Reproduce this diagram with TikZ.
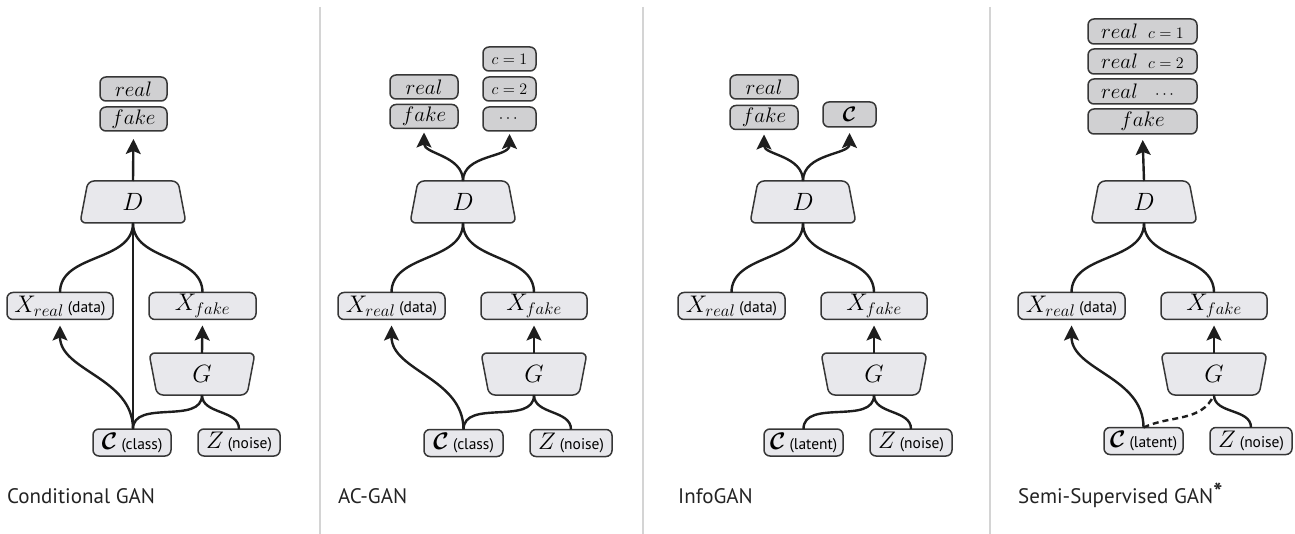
\RequirePackage{fix-cm}
\documentclass[tikz,border=0pt]{standalone}
\usepackage{amsmath}
\usepackage{bm}
\usepackage{fontspec}
\newfontfamily\capfont{PT Sans}
\usetikzlibrary{arrows.meta,calc}
\definecolor{boxfill}{RGB}{232,232,236}
\definecolor{outfill}{RGB}{208,208,210}
\definecolor{edgec}{RGB}{55,55,55}
\definecolor{wirec}{RGB}{30,30,30}
\definecolor{sepc}{RGB}{212,212,212}
\definecolor{capc}{RGB}{35,35,35}
\newcommand\smallsans[1]{{\capfont\fontsize{15.5}{17}\selectfont #1}}
\newcommand\cwbox[1]{\makebox[36pt]{#1}}
\newcommand\Dshape[2]{\draw[trapstyle] ({#1-53},{#2-21}) -- ({#1-45},{#2+21}) -- ({#1+45},{#2+21}) -- ({#1+53},{#2-21}) -- cycle;}
\newcommand\Gshape[2]{\draw[trapstyle] ({#1-53},{#2+21}) -- ({#1-45},{#2-21}) -- ({#1+45},{#2-21}) -- ({#1+53},{#2+21}) -- cycle;}
\tikzset{
  x=1pt, y=1pt,
  box/.style={draw=edgec, line width=1.5pt, rounded corners=6pt, inner sep=0pt, outer sep=0pt, minimum height=27pt, align=center},
  inbox/.style={box, fill=boxfill, font=\fontsize{24}{28}\selectfont},
  outbox/.style={box, fill=outfill, minimum height=24pt, font=\fontsize{21}{24}\selectfont},
  trapnode/.style={inner sep=0pt, outer sep=0pt, minimum width=106pt, minimum height=42pt, font=\fontsize{25}{28}\selectfont},
  trapstyle/.style={draw=edgec, fill=boxfill, line width=1.5pt, rounded corners=6pt},
  wire/.style={draw=wirec, line width=2.4pt},
  arr/.style={wire, -{Stealth[length=15pt,width=15pt,inset=3pt]}, shorten >=6pt},
  caption/.style={anchor=base west, inner sep=0pt, text=capc, font=\capfont\fontsize{21}{24}\selectfont},
  sepline/.style={draw=sepc, line width=1.2pt}
}
\begin{document}
\begin{tikzpicture}
\useasboundingbox (0,0) rectangle (1295,-534);
% separators
\draw[sepline] (320,-7) -- (320,-534);
\draw[sepline] (643,-7) -- (643,-534);
\draw[sepline] (990,-7) -- (990,-534);

% ---------- Panel 1: Conditional GAN ----------
\node[outbox, minimum width=67pt] (a-real) at (133.5,-89) {$real$};
\node[outbox, minimum width=67pt] (a-fake) at (133.5,-119) {$fake$};
\Dshape{133}{-202}
\node[trapnode] (a-D) at (133,-202) {$D$};
\node[inbox, minimum width=106pt] (a-Xr) at (60,-306) {$X_{real}$\,\smallsans{(data)}};
\node[inbox, minimum width=107pt] (a-Xf) at (202.5,-306) {$X_{fake}$};
\Gshape{202}{-374}
\node[trapnode] (a-G) at (202,-374) {$G$};
\node[inbox, minimum width=78pt] (a-C) at (132,-442.5) {$\bm{\mathcal{C}}$\,\smallsans{(class)}};
\node[inbox, minimum width=82pt] (a-Z) at (239,-442.5) {$Z$\,\smallsans{(noise)}};
\coordinate (a-c) at (a-D.south |- a-C.north);
\draw[arr, shorten >=8pt] (a-D.north) -- (a-fake.south);
\draw[wire] (a-D.south) to[out=-90,in=90] (a-Xr.north);
\draw[wire] (a-D.south) to[out=-90,in=90] (a-Xf.north);
\draw[wire] (a-D.south) -- (a-c);
\draw[arr] (a-c) to[out=90,in=-90] (a-Xr.south);
\draw[wire] (a-c) to[out=90,in=-90] (a-G.south);
\draw[wire] (a-Z.north) to[out=90,in=-90] (a-G.south);
\draw[arr] (a-G.north) -- (a-Xf.south);
\node[caption] (a-cap) at (7,-503) {Conditional GAN};

% ---------- Panel 2: AC-GAN ----------
\node[outbox, minimum width=68pt] (b-real) at (424,-87) {$real$};
\node[outbox, minimum width=68pt] (b-fake) at (424,-116.5) {$fake$};
\node[outbox, minimum width=53pt, font=\fontsize{16}{18}\selectfont] (b-c1) at (509.5,-59) {$c=1$};
\node[outbox, minimum width=53pt, font=\fontsize{16}{18}\selectfont] (b-c2) at (509.5,-89) {$c=2$};
\node[outbox, minimum width=53pt, font=\fontsize{16}{18}\selectfont] (b-cd) at (509.5,-119) {$\cdots$};
\Dshape{463}{-202}
\node[trapnode] (b-D) at (463,-202) {$D$};
\node[inbox, minimum width=107pt] (b-Xr) at (391.5,-306) {$X_{real}$\,\smallsans{(data)}};
\node[inbox, minimum width=106pt] (b-Xf) at (534,-306) {$X_{fake}$};
\Gshape{534}{-374}
\node[trapnode] (b-G) at (534,-374) {$G$};
\node[inbox, minimum width=79pt] (b-C) at (463.5,-443) {$\bm{\mathcal{C}}$\,\smallsans{(class)}};
\node[inbox, minimum width=82pt] (b-Z) at (571,-443) {$Z$\,\smallsans{(noise)}};
\draw[arr, shorten >=4pt] (b-D.north) to[out=90,in=-90] (b-fake.south);
\draw[arr, shorten >=3pt] (b-D.north) to[out=90,in=-90] (b-cd.south);
\draw[wire] (b-D.south) to[out=-90,in=90] (b-Xr.north);
\draw[wire] (b-D.south) to[out=-90,in=90] (b-Xf.north);
\draw[arr] (b-C.north) to[out=90,in=-90] (b-Xr.south);
\draw[wire] (b-C.north) to[out=90,in=-90] (b-G.south);
\draw[wire] (b-Z.north) to[out=90,in=-90] (b-G.south);
\draw[arr] (b-G.north) -- (b-Xf.south);
\node[caption] (b-cap) at (338,-503) {AC-GAN};

% ---------- Panel 3: InfoGAN ----------
\node[outbox, minimum width=68pt] (c-real) at (764,-87) {$real$};
\node[outbox, minimum width=68pt] (c-fake) at (764,-117.5) {$fake$};
\node[outbox, minimum width=53pt, minimum height=25pt] (c-Co) at (849.5,-114.5) {$\bm{\mathcal{C}}$};
\Dshape{803}{-202}
\node[trapnode] (c-D) at (803,-202) {$D$};
\node[inbox, minimum width=107pt] (c-Xr) at (731.5,-306) {$X_{real}$\,\smallsans{(data)}};
\node[inbox, minimum width=106pt] (c-Xf) at (874,-306) {$X_{fake}$};
\Gshape{874}{-374}
\node[trapnode] (c-G) at (874,-374) {$G$};
\node[inbox, minimum width=79pt] (c-C) at (803.5,-442.5) {$\bm{\mathcal{C}}$\,\smallsans{(latent)}};
\node[inbox, minimum width=82pt] (c-Z) at (911,-442.5) {$Z$\,\smallsans{(noise)}};
\draw[arr, shorten >=5pt] (c-D.north) to[out=90,in=-90] (c-fake.south);
\draw[arr, shorten >=6pt] (c-D.north) to[out=90,in=-90] (c-Co.south);
\draw[wire] (c-D.south) to[out=-90,in=90] (c-Xr.north);
\draw[wire] (c-D.south) to[out=-90,in=90] (c-Xf.north);
\draw[wire] (c-C.north) to[out=90,in=-90] (c-G.south);
\draw[wire] (c-Z.north) to[out=90,in=-90] (c-G.south);
\draw[arr] (c-G.north) -- (c-Xf.south);
\node[caption] (c-cap) at (678,-503) {InfoGAN};

% ---------- Panel 4: Semi-Supervised GAN ----------
\node[outbox, minimum width=109pt, minimum height=25pt] (d-r1) at (1142.5,-31.5) {$real$\hspace{10pt}{\fontsize{16}{18}\selectfont\cwbox{$c=1$}}};
\node[outbox, minimum width=109pt, minimum height=25pt] (d-r2) at (1142.5,-61.5) {$real$\hspace{10pt}{\fontsize{16}{18}\selectfont\cwbox{$c=2$}}};
\node[outbox, minimum width=109pt, minimum height=25pt] (d-r3) at (1142.5,-91.5) {$real$\hspace{10pt}{\fontsize{16}{18}\selectfont\cwbox{$\cdots$}}};
\node[outbox, minimum width=109pt, minimum height=25pt] (d-fake) at (1142.5,-121.5) {$fake$};
\Dshape{1144}{-202}
\node[trapnode] (d-D) at (1144,-202) {$D$};
\node[inbox, minimum width=107pt] (d-Xr) at (1071.5,-306) {$X_{real}$\,\smallsans{(data)}};
\node[inbox, minimum width=106pt] (d-Xf) at (1214,-306) {$X_{fake}$};
\Gshape{1214}{-374}
\node[trapnode] (d-G) at (1214,-374) {$G$};
\node[inbox, minimum width=79pt] (d-C) at (1143.5,-441) {$\bm{\mathcal{C}}$\,\smallsans{(latent)}};
\node[inbox, minimum width=82pt] (d-Z) at (1251,-441) {$Z$\,\smallsans{(noise)}};
\draw[arr] (d-D.north) -- (d-fake.south);
\draw[wire] (d-D.south) to[out=-90,in=90] (d-Xr.north);
\draw[wire] (d-D.south) to[out=-90,in=90] (d-Xf.north);
\draw[arr] (d-C.north) to[out=90,in=-90] (d-Xr.south);
\draw[wire, dash pattern=on 6pt off 4pt] (d-C.north) to[out=25,in=-115] (d-G.south);
\draw[wire] (d-Z.north) to[out=90,in=-90] (d-G.south);
\draw[arr] (d-G.north) -- (d-Xf.south);
\node[caption] (d-cap) at (1018,-503) {Semi-Supervised GAN\raisebox{3pt}{\fontsize{24}{24}\selectfont\bfseries *}};
\end{tikzpicture}
\end{document}
